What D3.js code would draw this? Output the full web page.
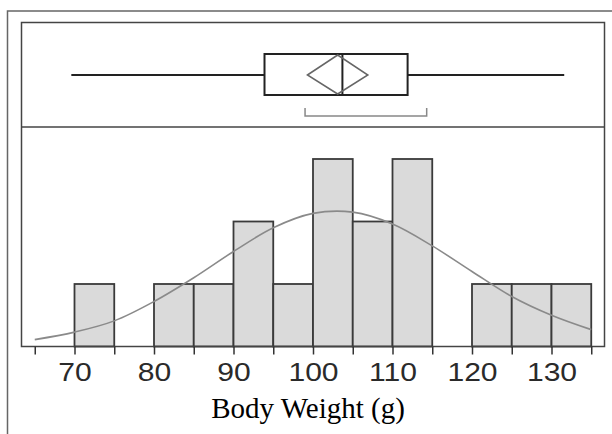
<!DOCTYPE html>
<meta charset="utf-8">

<!-- Load d3.js -->
<script src="https://cdn.jsdelivr.net/npm/d3@7"></script>
<style>
  body { margin: 0; background: #fff; }
</style>

<div id="my_dataviz"></div>

<script>
// histogram bins (lower edge, width 5 g) and counts
const binStarts = [70, 75, 80, 85, 90, 95, 100, 105, 110, 115, 120, 125, 130];
const binCounts = [1, 0, 1, 1, 2, 1, 3, 2, 3, 0, 1, 1, 1];
const binWidth = 5;

// fitted normal curve (in count units)
const curveWeights = [65, 70, 75, 80, 85, 90, 95, 100, 105, 110, 115, 120, 125, 130, 135];
const curveCounts = [0.11, 0.23, 0.41, 0.72, 1.1, 1.52, 1.9, 2.13, 2.15, 1.96, 1.61, 1.2, 0.8, 0.5, 0.27];

// box plot summary
const boxStats = [69.6, 93.9, 103.7, 111.9, 131.6]; // min, q1, median, q3, max
const meanDiamond = [99.3, 103.1, 106.9];          // lower ci, mean, upper ci
const shortestHalf = [99.0, 114.3];

// axis ticks
const minorTicks = [65, 75, 85, 95, 105, 115, 125, 135];
const majorTicks = [70, 80, 90, 100, 110, 120, 130];

const width = 612, height = 434;

const svg = d3.select("#my_dataviz")
  .append("svg")
  .attr("width", width)
  .attr("height", height);

// outer frame (top and left only)
svg.append("path")
  .attr("d", "M7.5,434 V11 H612")
  .attr("fill", "none")
  .attr("stroke", "#666")
  .attr("stroke-width", 1.5);

const plot = {left: 21.5, right: 604.5, top: 22.5, split: 127, base: 346.5};

// scales
const x = d3.scaleLinear()
  .domain([65, 135])
  .range([34.75, 591.25]);

const y = d3.scaleLinear()
  .domain([0, 5.184])
  .range([plot.base, plot.top]);

// bars
svg.append("g")
  .selectAll("rect")
  .data(binStarts.map((b, i) => ({x0: b, n: binCounts[i]})).filter(d => d.n > 0))
  .join("rect")
    .attr("x", d => x(d.x0))
    .attr("y", d => y(d.n))
    .attr("width", d => x(d.x0 + binWidth) - x(d.x0))
    .attr("height", d => y(0) - y(d.n))
    .attr("fill", "#dadada")
    .attr("stroke", "#3a3a3a")
    .attr("stroke-width", 1.8);

// normal curve
const line = d3.line()
  .x(d => x(d[0]))
  .y(d => y(d[1]))
  .curve(d3.curveCatmullRom);

svg.append("path")
  .datum(curveWeights.map((w, i) => [w, curveCounts[i]]))
  .attr("d", line)
  .attr("fill", "none")
  .attr("stroke", "#8a8a8a")
  .attr("stroke-width", 1.6);

// inner frame + divider
svg.append("rect")
  .attr("x", plot.left)
  .attr("y", plot.top)
  .attr("width", plot.right - plot.left)
  .attr("height", plot.base - plot.top)
  .attr("fill", "none")
  .attr("stroke", "#444")
  .attr("stroke-width", 1.5);

svg.append("line")
  .attr("x1", plot.left).attr("x2", plot.right)
  .attr("y1", plot.split).attr("y2", plot.split)
  .attr("stroke", "#444")
  .attr("stroke-width", 1.5);

// box plot
const bp = {top: 54, mid: 75, bottom: 95};
const [mn, q1, med, q3, mx] = boxStats;
const box = svg.append("g").attr("stroke", "#222").attr("stroke-width", 2).attr("fill", "none");

box.append("line").attr("x1", x(mn)).attr("x2", x(q1)).attr("y1", bp.mid).attr("y2", bp.mid);
box.append("line").attr("x1", x(q3)).attr("x2", x(mx)).attr("y1", bp.mid).attr("y2", bp.mid);
box.append("rect")
  .attr("x", x(q1)).attr("y", bp.top)
  .attr("width", x(q3) - x(q1)).attr("height", bp.bottom - bp.top);
box.append("line").attr("x1", x(med)).attr("x2", x(med)).attr("y1", bp.top).attr("y2", bp.bottom);

// mean diamond
const [ciLo, mean, ciHi] = meanDiamond;
svg.append("path")
  .attr("d", `M${x(ciLo)},${bp.mid} L${x(mean)},${bp.top + 1} L${x(ciHi)},${bp.mid} L${x(mean)},${bp.bottom - 1} Z`)
  .attr("fill", "none")
  .attr("stroke", "#666")
  .attr("stroke-width", 1.5);

// shortest half bracket
svg.append("path")
  .attr("d", `M${x(shortestHalf[0])},108 V116 H${x(shortestHalf[1])} V108`)
  .attr("fill", "none")
  .attr("stroke", "#888")
  .attr("stroke-width", 1.5);

// x axis: minor ticks (no labels) and labelled ticks
svg.append("g")
  .attr("transform", `translate(0, ${plot.base})`)
  .call(d3.axisBottom(x).tickValues(minorTicks).tickSize(8).tickFormat(""))
  .call(g => g.select(".domain").remove());

svg.append("g")
  .attr("transform", `translate(0, ${plot.base})`)
  .call(d3.axisBottom(x).tickValues(majorTicks).tickSize(8).tickPadding(8.8))
  .call(g => g.select(".domain").remove());

svg.selectAll(".tick line")
  .attr("stroke", "#333")
  .attr("stroke-width", 1.5);

// labels in the source are a bit wide, stretch them horizontally
svg.selectAll(".tick text")
  .attr("fill", "#2a2a2a")
  .attr("transform", "scale(1.18,1)")
  .style("font-family", "'Liberation Sans', Arial, sans-serif")
  .style("font-size", "25.5px");

// axis title
svg.append("text")
  .attr("x", 308)
  .attr("y", 418)
  .attr("text-anchor", "middle")
  .style("font-family", "'Liberation Serif', 'Times New Roman', serif")
  .style("font-size", "29px")
  .attr("fill", "#000")
  .text("Body Weight (g)");
</script>
